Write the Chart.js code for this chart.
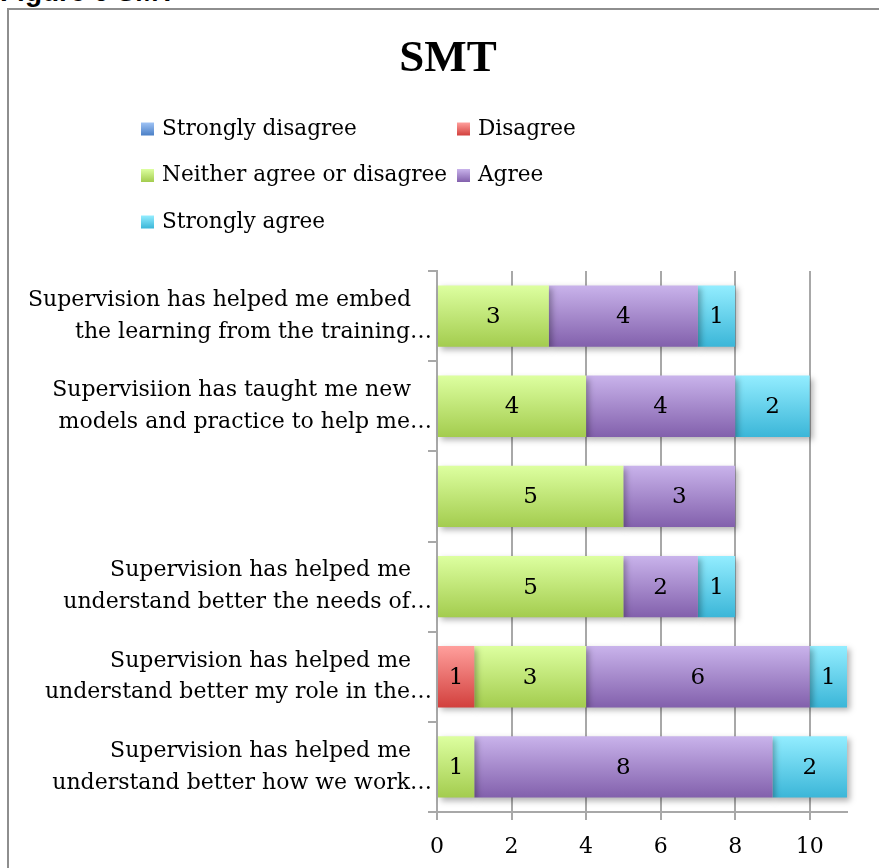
<!DOCTYPE html>
<html>
<head>
<meta charset="utf-8">
<script src="https://cdn.jsdelivr.net/npm/chart.js@4"></script>
<style>
  html, body { margin: 0; padding: 0; background: #fff; overflow: hidden; }
  body { width: 879px; height: 868px; position: relative; }
  #caption { position: absolute; left: 0; top: -24px; font: bold 28px "Liberation Sans", Arial, sans-serif; color: #000; white-space: nowrap; }
  #frame { position: absolute; left: 7px; top: 8px; width: 1000px; height: 1000px; border: 2px solid #8e8e8e; background: #fff; }
  #chart { position: absolute; left: 0; top: 0; }
</style>
</head>
<body>
<div id="caption">Figure 6 SMT</div>
<div id="frame"></div>
<canvas id="chart" width="879" height="868"></canvas>
<script>
// categories, top to bottom (first line keeps trailing spaces like the original wrap)
const categories = [
  ["Supervision has helped me embed   ", "the learning from the training…"],
  ["Supervisiion has taught me new   ", "models and practice to help me…"],
  "",
  ["Supervision has helped me   ", "understand better the needs of…"],
  ["Supervision has helped me   ", "understand better my role in the…"],
  ["Supervision has helped me   ", "understand better how we work…"]
];

const seriesNames = ["Strongly disagree", "Disagree", "Neither agree or disagree", "Agree", "Strongly agree"];
const stronglyDisagree = [0, 0, 0, 0, 0, 0];
const disagree = [0, 0, 0, 0, 1, 0];
const neither = [3, 4, 5, 5, 3, 1];
const agree = [4, 4, 3, 2, 6, 8];
const stronglyAgree = [1, 2, 0, 1, 1, 2];
const seriesData = [stronglyDisagree, disagree, neither, agree, stronglyAgree];

const xMax = 11;
const xStep = 2;

// gradient colours, light at top of bar, dark at bottom
const colorsTop = ["#9fc3f5", "#ff9f9c", "#ddffa0", "#c9b3eb", "#93edff"];
const colorsBottom = ["#4a7fc6", "#d2403d", "#a3cc4e", "#8260ac", "#3bb6d8"];

const serif = "'DejaVu Serif', serif";
const gridColor = "#a8a8a8";
const barPct = 0.68;
const titleCenterX = 448;

// one vertical gradient per bar, worked out from the category scale
function barGradient(c) {
  const chart = c.chart;
  const ys = chart.scales.y;
  const i = c.datasetIndex;
  if (!ys || !chart.chartArea || c.dataIndex === undefined) return colorsBottom[i];
  const center = ys.getPixelForValue(c.dataIndex);
  const band = Math.abs(ys.getPixelForValue(1) - ys.getPixelForValue(0));
  const h = band * barPct;
  const g = chart.ctx.createLinearGradient(0, center - h / 2, 0, center + h / 2);
  g.addColorStop(0, colorsTop[i]);
  g.addColorStop(1, colorsBottom[i]);
  return g;
}

const barStyle = {
  id: "barStyle",
  afterLayout(chart) {
    // the title sits a little right of the canvas centre in the original
    const t = chart.titleBlock;
    if (t) t.left = 2 * titleCenterX - t.right;
  },
  beforeDatasetDraw(chart) {
    const ctx = chart.ctx;
    ctx.save();
    ctx.shadowColor = "rgba(0,0,0,0.3)";
    ctx.shadowBlur = 6;
    ctx.shadowOffsetX = 3;
    ctx.shadowOffsetY = 3;
  },
  afterDatasetDraw(chart) {
    chart.ctx.restore();
  },
  afterDatasetsDraw(chart) {
    // value labels in the middle of each segment
    const ctx = chart.ctx;
    ctx.save();
    ctx.font = "23px " + serif;
    ctx.fillStyle = "#000";
    ctx.textAlign = "center";
    ctx.textBaseline = "middle";
    chart.data.datasets.forEach((ds, i) => {
      chart.getDatasetMeta(i).data.forEach((bar, j) => {
        const v = ds.data[j];
        if (!v) return;
        const c = bar.getCenterPoint();
        ctx.fillText(String(v), c.x, c.y + 1);
      });
    });
    ctx.restore();
  }
};

// legend laid out as a two column grid
const gridLegend = {
  id: "gridLegend",
  afterDraw(chart) {
    const ctx = chart.ctx;
    const colX = [141, 457];
    const rowY = 129, rowStep = 46.5, box = 13;
    ctx.save();
    ctx.font = "21.6px " + serif;
    ctx.textBaseline = "middle";
    chart.data.datasets.forEach((ds, i) => {
      const x = colX[i % 2];
      const y = rowY + Math.floor(i / 2) * rowStep;
      const g = ctx.createLinearGradient(0, y - box / 2, 0, y + box / 2);
      g.addColorStop(0, colorsTop[i]);
      g.addColorStop(1, colorsBottom[i]);
      ctx.fillStyle = g;
      ctx.fillRect(x, y - box / 2, box, box);
      ctx.fillStyle = "#000";
      ctx.fillText(ds.label, x + 21, y);
    });
    ctx.restore();
  }
};

const tickFont = { family: serif, size: 22, lineHeight: 1.45 };

new Chart(document.getElementById("chart"), {
  type: "bar",
  data: {
    labels: categories,
    datasets: seriesNames.map((name, i) => ({
      label: name,
      data: seriesData[i],
      backgroundColor: barGradient,
      borderWidth: 0,
      barPercentage: barPct,
      categoryPercentage: 1,
      clip: false
    }))
  },
  options: {
    indexAxis: "y",
    responsive: false,
    animation: false,
    layout: { padding: { left: 0, right: 32, top: 0, bottom: 0 } },
    plugins: {
      legend: { display: false },
      tooltip: { enabled: false },
      title: {
        display: true,
        text: "SMT",
        color: "#000",
        font: { family: "'Liberation Serif', serif", size: 45, weight: "bold", lineHeight: 1.2 },
        padding: { top: 32, bottom: 185 }
      }
    },
    scales: {
      x: {
        stacked: true,
        min: 0,
        max: xMax,
        ticks: { stepSize: xStep, includeBounds: false, color: "#000", font: tickFont, padding: 11 },
        grid: { color: gridColor, lineWidth: 2, tickLength: 8 },
        border: { color: gridColor, width: 2 },
        afterFit(scale) { scale.height = 56; }
      },
      y: {
        stacked: true,
        ticks: { color: "#000", font: tickFont, padding: -4, autoSkip: false },
        grid: { drawOnChartArea: false, color: gridColor, lineWidth: 2, tickLength: 9 },
        border: { color: gridColor, width: 2 },
        afterFit(scale) { scale.width = 437; }
      }
    }
  },
  plugins: [barStyle, gridLegend]
});
</script>
</body>
</html>
